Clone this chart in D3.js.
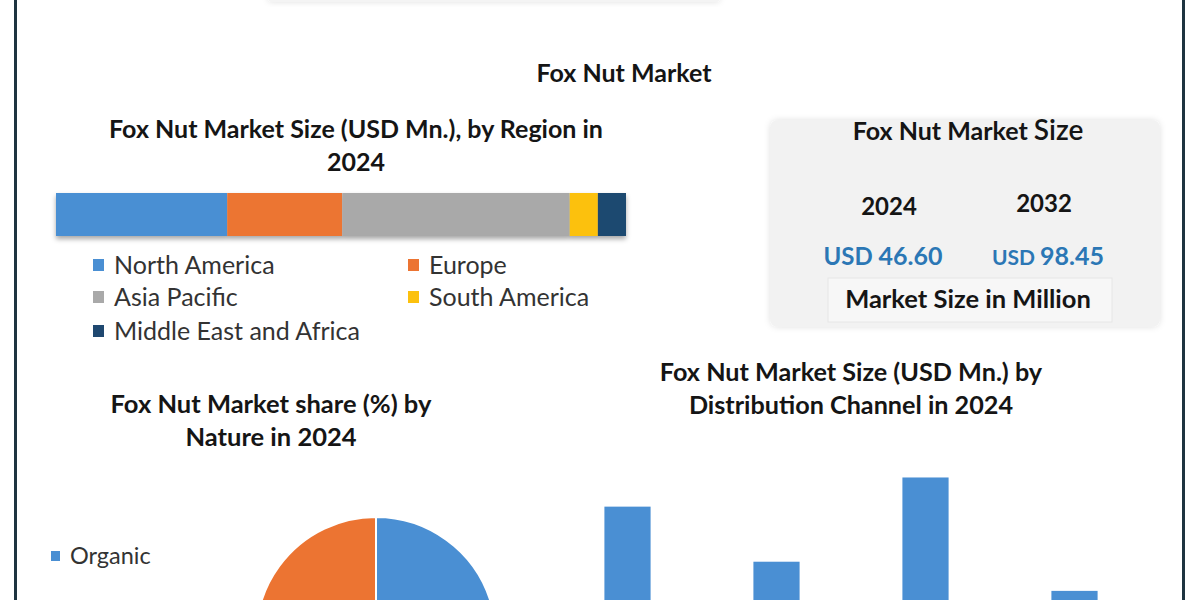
<!DOCTYPE html>
<html>
<head>
<meta charset="utf-8">
<script src="https://cdn.jsdelivr.net/npm/d3@7"></script>
<style>
html,body{margin:0;padding:0;background:#fff;}
svg{display:block;font-family:Lato, "Open Sans", sans-serif;}
</style>
</head>
<body>
<svg id="c" width="1200" height="600"></svg>
<script>
// ---- data ----
const regions = ["North America", "Europe", "Asia Pacific", "South America", "Middle East and Africa"];
const regionValues = [14.0, 9.4, 18.6, 2.3, 2.3];
const regionColors = ["#4a8fd3", "#ec7432", "#a9a9a9", "#fcc10e", "#1f4870"];

const sizeYears = ["2024", "2032"];
const sizeValues = ["46.60", "98.45"];

const natures = ["Organic", "Conventional"];
const natureValues = [40, 60];
const natureColors = ["#4a8fd3", "#ec7432"];

const channels = ["Supermarkets/Hypermarkets", "Convenience Stores", "Online Retail", "Others"];
const channelValues = [14.2, 9.1, 16.9, 6.4];

const svg = d3.select("#c");
const defs = svg.append("defs");
const sh = defs.append("filter").attr("id","sh").attr("x","-10%").attr("y","-30%").attr("width","120%").attr("height","180%");
sh.append("feDropShadow").attr("dx",0).attr("dy",3).attr("stdDeviation",2.5).attr("flood-color","#000").attr("flood-opacity",0.35);
const sh2 = defs.append("filter").attr("id","sh2").attr("x","-10%").attr("y","-10%").attr("width","120%").attr("height","120%");
sh2.append("feDropShadow").attr("dx",0).attr("dy",0).attr("stdDeviation",3).attr("flood-color","#000").attr("flood-opacity",0.12);

// frame
svg.append("rect").attr("x",0).attr("y",0).attr("width",1200).attr("height",600).attr("fill","#fff");
svg.append("line").attr("x1",15.5).attr("x2",15.5).attr("y1",0).attr("y2",600).attr("stroke","#1e3440").attr("stroke-width",3);
svg.append("line").attr("x1",1183.5).attr("x2",1183.5).attr("y1",0).attr("y2",600).attr("stroke","#1e3440").attr("stroke-width",3);
// top box remnant
svg.append("rect").attr("x",268).attr("y",-40).attr("width",452).attr("height",42).attr("rx",4).attr("fill","#f4f4f4").attr("filter","url(#sh2)");

const titleColor = "#151515";
function title(x, y, lines, size){
  const t = svg.append("text").attr("text-anchor","middle").attr("font-weight","bold").attr("font-size",size).attr("fill",titleColor);
  lines.forEach((l,i)=>t.append("tspan").attr("x",x).attr("y",y+i*33).text(l));
}
title(624, 82, ["Fox Nut Market"], 25);

// ---- region stacked bar ----
title(356, 138, ["Fox Nut Market Size (USD Mn.), by Region in", "2024"], 25);
const total = d3.sum(regionValues);
const xr = d3.scaleLinear().domain([0,total]).range([56,626]);
let acc = 0;
const stacked = regionValues.map((v,i)=>{const s={i, x0:acc, x1:acc+v}; acc+=v; return s;});
const gbar = svg.append("g").attr("filter","url(#sh)");
gbar.selectAll("rect").data(stacked).join("rect")
  .attr("x",d=>xr(d.x0)).attr("width",d=>xr(d.x1)-xr(d.x0))
  .attr("y",193).attr("height",43).attr("fill",d=>regionColors[d.i]);

const legPos = [[93,265],[408,265],[93,297],[408,297],[93,331]];
const lg = svg.append("g");
regions.forEach((r,i)=>{
  const [x,y]=legPos[i];
  lg.append("rect").attr("x",x).attr("y",y-6).attr("width",11).attr("height",12).attr("fill",regionColors[i]);
  lg.append("text").attr("x",x+21).attr("y",y+9).attr("font-size",25).attr("fill","#333").text(r);
});

// ---- market size box ----
svg.append("rect").attr("x",770).attr("y",120).attr("width",390).attr("height",207).attr("rx",8).attr("fill","#f2f2f2").attr("filter","url(#sh2)");
const bt = svg.append("text").attr("x",968).attr("y",140).attr("text-anchor","middle").attr("fill",titleColor);
bt.append("tspan").attr("font-weight","bold").attr("font-size",25).text("Fox Nut Market ");
bt.append("tspan").attr("font-size",28).attr("font-weight","600").text("Size");
const yrX = [889, 1044], yrY=[215, 212];
sizeYears.forEach((yv,i)=>{
  svg.append("text").attr("x",yrX[i]).attr("y",yrY[i]).attr("text-anchor","middle").attr("font-weight","bold").attr("font-size",24).attr("fill",titleColor).text(yv);
});
const valX=[883,1048];
sizeValues.forEach((v,i)=>{
  const t = svg.append("text").attr("x",valX[i]).attr("y",265).attr("text-anchor","middle").attr("font-weight","bold").attr("fill","#2b77b5");
  t.append("tspan").attr("font-size", i===0?24:21).text("USD ");
  t.append("tspan").attr("font-size",25).text(v);
});
svg.append("rect").attr("x",828).attr("y",278).attr("width",284).attr("height",44).attr("fill","#f7f7f7").attr("stroke","#e6e6e6");
svg.append("text").attr("x",968).attr("y",308).attr("text-anchor","middle").attr("font-weight","bold").attr("font-size",25.5).attr("fill",titleColor).text("Market Size in Million");

// ---- pie ----
title(271, 413, ["Fox Nut Market share (%) by", "Nature in 2024"], 25.5);
const pie = d3.pie().sort(null)(natureValues);
const arc = d3.arc().innerRadius(0).outerRadius(120);
svg.append("g").attr("transform","translate(376,637)")
  .selectAll("path").data(pie).join("path")
  .attr("d",arc).attr("fill",(d,i)=>natureColors[i]).attr("stroke","#fff").attr("stroke-width",2);
// legend (only the first entry falls inside the visible area)
natures.slice(0,1).forEach((n,i)=>{
  const y = 556 + i*56;
  svg.append("rect").attr("x",51).attr("y",y-5).attr("width",9).attr("height",10).attr("fill",natureColors[i]);
  svg.append("text").attr("x",70).attr("y",y+8).attr("font-size",23.5).attr("fill","#333").text(n);
});

// ---- channel bars ----
title(851, 381, ["Fox Nut Market Size (USD Mn.) by", "Distribution Channel in 2024"], 25.2);
const xb = d3.scaleBand().domain(channels).range([553,1149]).paddingInner(0.69).paddingOuter(0.345);
const yb = d3.scaleLinear().domain([0,20]).range([660,444]);
svg.append("g").selectAll("rect").data(channels).join("rect")
  .attr("x",d=>xb(d)).attr("width",xb.bandwidth())
  .attr("y",(d,i)=>yb(channelValues[i])).attr("height",(d,i)=>yb(0)-yb(channelValues[i]))
  .attr("fill","#4a8fd3");
</script>
</body>
</html>
